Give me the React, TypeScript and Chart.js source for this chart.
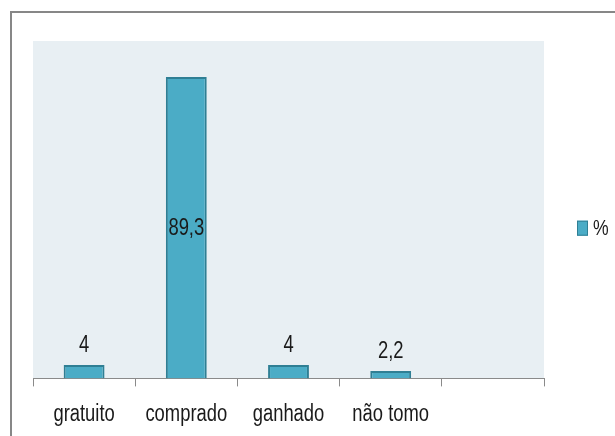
import React, { useEffect, useRef } from "react";
import { Chart, registerables } from "chart.js";

Chart.register(...registerables);

const categories = ["gratuito", "comprado", "ganhado", "não tomo", ""];
const seriesLabel = "%";
const values: (number | null)[] = [4, 89.3, 4, 2.2, null];
const yMin = 0;
const yMax = 100;

const FONT = "'Liberation Sans', Arial, sans-serif";
const NARROW = 0.8;
const BAR_FILL = "#4BACC6";
const BAR_BORDER = "#2F7F94";
const PLOT_BG = "#E8EFF3";
const FRAME = "#878787";
const TEXT = "#1a1a1a";

const fmt = (v: number) => String(v).replace(".", ",");

function narrowText(ctx: CanvasRenderingContext2D, text: string, x: number, y: number, align: CanvasTextAlign, baseline: CanvasTextBaseline) {
  ctx.save();
  ctx.translate(x, y);
  ctx.scale(NARROW, 1);
  ctx.textAlign = align;
  ctx.textBaseline = baseline;
  ctx.fillText(text, 0, 0);
  ctx.restore();
}

const framePlugin = {
  id: "frame",
  beforeDraw(chart: any) {
    const { ctx, chartArea } = chart;
    ctx.save();
    ctx.fillStyle = "#ffffff";
    ctx.fillRect(0, 0, chart.width, chart.height);
    ctx.strokeStyle = FRAME;
    ctx.lineWidth = 2;
    ctx.strokeRect(11, 12, chart.width + 50, chart.height + 50);
    ctx.fillStyle = PLOT_BG;
    ctx.fillRect(chartArea.left, chartArea.top, chartArea.right - chartArea.left, chartArea.bottom - chartArea.top);
    ctx.restore();
  },
};

const labelsPlugin = {
  id: "valueLabels",
  afterDatasetsDraw(chart: any) {
    const { ctx, chartArea } = chart;
    const meta = chart.getDatasetMeta(0);
    const ds = chart.data.datasets[0];
    ctx.save();
    ctx.font = `23px ${FONT}`;
    ctx.fillStyle = TEXT;
    meta.data.forEach((bar: any, i: number) => {
      const v = ds.data[i];
      if (v === null || v === undefined) return;
      const h = bar.base - bar.y;
      if (h > 60) {
        narrowText(ctx, fmt(v), bar.x, (bar.y + bar.base) / 2 + 1, "center", "middle");
      } else {
        narrowText(ctx, fmt(v), bar.x, bar.y - 13, "center", "alphabetic");
      }
    });
    // category labels, positioned from the x scale
    const xs = chart.scales.x;
    ctx.font = `23px ${FONT}`;
    xs.ticks.forEach((_t: any, i: number) => {
      const lbl = xs.getLabelForValue(i);
      if (!lbl) return;
      narrowText(ctx, lbl, xs.getPixelForTick(i), chartArea.bottom + 36, "center", "middle");
    });
    ctx.restore();
  },
};

const legendPlugin = {
  id: "rightLegend",
  afterDraw(chart: any) {
    const { ctx, chartArea } = chart;
    const ds = chart.data.datasets[0];
    const x = chartArea.right + 33;
    const yMid = (chartArea.top + chartArea.bottom) / 2 + 19;
    ctx.save();
    ctx.fillStyle = ds.backgroundColor;
    ctx.fillRect(x, yMid - 8, 11, 15);
    ctx.strokeStyle = ds.borderColor;
    ctx.lineWidth = 1;
    ctx.strokeRect(x + 0.5, yMid - 7.5, 10, 14);
    ctx.font = `22px ${FONT}`;
    ctx.fillStyle = TEXT;
    narrowText(ctx, ds.label, x + 16, yMid, "left", "middle");
    ctx.restore();
  },
};

export default function App() {
  const ref = useRef<HTMLCanvasElement | null>(null);
  useEffect(() => {
    if (!ref.current) return;
    const chart = new Chart(ref.current, {
      type: "bar",
      data: {
        labels: categories,
        datasets: [
          {
            label: seriesLabel,
            data: values,
            backgroundColor: BAR_FILL,
            borderColor: BAR_BORDER,
            borderWidth: 2,
            borderSkipped: "bottom",
            categoryPercentage: 1,
            barPercentage: 0.4,
          },
        ],
      },
      options: {
        animation: false,
        responsive: false,
        maintainAspectRatio: false,
        layout: { padding: { left: 33, top: 41, right: 71, bottom: 22 } },
        plugins: { legend: { display: false }, tooltip: { enabled: false } },
        scales: {
          y: { display: false, min: yMin, max: yMax },
          x: {
            offset: true,
            border: { display: true, color: "#8a8a8a", width: 1 },
            grid: {
              offset: true,
              drawOnChartArea: false,
              drawTicks: true,
              tickLength: 8,
              color: "#8a8a8a",
            },
            ticks: {
              padding: 0,
              color: "rgba(0,0,0,0)",
              font: { family: FONT, size: 23 },
              maxRotation: 0,
              autoSkip: false,
            },
          },
        },
      },
      plugins: [framePlugin, labelsPlugin, legendPlugin],
    });
    return () => chart.destroy();
  }, []);
  return (
    <div style={{ position: "absolute", left: 0, top: 0, width: 615, height: 436, background: "#fff" }}>
      <canvas ref={ref} width={615} height={436} style={{ display: "block" }} />
    </div>
  );
}
